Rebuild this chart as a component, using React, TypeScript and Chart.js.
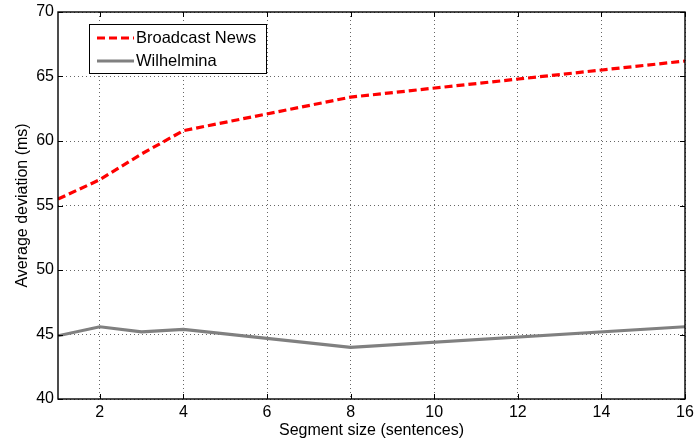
import React, { useEffect, useRef } from 'react';
import { Chart, registerables } from 'chart.js';

Chart.register(...registerables);

const segmentSizes = [1, 2, 3, 4, 8, 16];
const broadcastNews = [55.5, 57.0, 59.0, 60.8, 63.4, 66.2];
const wilhelmina = [44.9, 45.6, 45.2, 45.4, 44.0, 45.6];
const xTicks = [2, 4, 6, 8, 10, 12, 14, 16];
const yTicks = [40, 45, 50, 55, 60, 65, 70];
const seriesLabels = ['Broadcast News', 'Wilhelmina'];
const xTitle = 'Segment size (sentences)';
const yTitle = 'Average deviation (ms)';

const FONT = '"Liberation Sans", Arial, Helvetica, sans-serif';

const framePlugin = {
  id: 'frameAndLegend',
  afterDraw(chart: any) {
    const { ctx, chartArea: a, scales } = chart;
    ctx.save();
    // inward ticks
    ctx.strokeStyle = '#000';
    ctx.lineWidth = 1;
    ctx.setLineDash([]);
    const L = 5;
    ctx.beginPath();
    xTicks.forEach((v) => {
      const px = Math.round(scales.x.getPixelForValue(v)) + 0.5;
      ctx.moveTo(px, a.bottom);
      ctx.lineTo(px, a.bottom - L);
      ctx.moveTo(px, a.top);
      ctx.lineTo(px, a.top + L);
    });
    yTicks.forEach((v) => {
      const py = Math.round(scales.y.getPixelForValue(v)) + 0.5;
      ctx.moveTo(a.left, py);
      ctx.lineTo(a.left + L, py);
      ctx.moveTo(a.right, py);
      ctx.lineTo(a.right - L, py);
    });
    ctx.stroke();
    // frame
    ctx.lineWidth = 1.4;
    ctx.strokeRect(a.left, a.top, a.right - a.left, a.bottom - a.top);

    // legend
    const bx = a.left + 31;
    const by = a.top + 12;
    const bw = 177;
    const bh = 49;
    ctx.fillStyle = '#fff';
    ctx.fillRect(bx, by, bw, bh);
    ctx.lineWidth = 1;
    ctx.strokeStyle = '#000';
    ctx.strokeRect(bx + 0.5, by + 0.5, bw, bh);
    chart.data.datasets.forEach((ds: any, i: number) => {
      const cy = by + 14 + i * 23;
      ctx.save();
      ctx.strokeStyle = ds.borderColor;
      ctx.lineWidth = ds.borderWidth;
      ctx.setLineDash(ds.borderDash || []);
      ctx.beginPath();
      ctx.moveTo(bx + 8, cy);
      ctx.lineTo(bx + 45, cy);
      ctx.stroke();
      ctx.restore();
      ctx.fillStyle = '#000';
      ctx.font = `16.5px ${FONT}`;
      ctx.textBaseline = 'middle';
      ctx.textAlign = 'left';
      ctx.fillText(ds.label, bx + 47, cy);
    });
    ctx.restore();
  },
};

export default function App() {
  const ref = useRef<HTMLCanvasElement | null>(null);
  useEffect(() => {
    document.body.style.margin = '0';
    const canvas = ref.current;
    if (!canvas) return;
    const chart = new Chart(canvas, {
      type: 'line',
      data: {
        datasets: [
          {
            label: seriesLabels[0],
            data: segmentSizes.map((x, i) => ({ x, y: broadcastNews[i] })),
            borderColor: '#ff0000',
            borderWidth: 3.2,
            borderDash: [8, 4],
            pointRadius: 0,
            tension: 0,
            fill: false,
          },
          {
            label: seriesLabels[1],
            data: segmentSizes.map((x, i) => ({ x, y: wilhelmina[i] })),
            borderColor: '#808080',
            borderWidth: 3.2,
            pointRadius: 0,
            tension: 0,
            fill: false,
          },
        ],
      },
      options: {
        responsive: false,
        animation: false,
        devicePixelRatio: 1,
        layout: { padding: { left: 0, right: 10, top: 12, bottom: 0 } },
        plugins: {
          legend: { display: false },
          tooltip: { enabled: false },
        },
        scales: {
          x: {
            type: 'linear',
            min: 1,
            max: 16,
            afterBuildTicks: (scale: any) => {
              scale.ticks = xTicks.map((v) => ({ value: v }));
            },
            afterFit: (scale: any) => {
              scale.height = 42;
              scale.paddingLeft = 0;
              scale.paddingRight = 0;
            },
            grid: { color: 'rgba(0,0,0,0.6)', lineWidth: 1, drawTicks: false },
            border: { display: false, dash: [1, 3] },
            ticks: {
              color: '#000',
              padding: 4,
              maxRotation: 0,
              autoSkip: false,
              font: { family: FONT, size: 16 },
            },
            title: {
              display: true,
              text: xTitle,
              color: '#000',
              font: { family: FONT, size: 16 },
              padding: { top: 0, bottom: 1 },
            },
          },
          y: {
            type: 'linear',
            min: 40,
            max: 70,
            afterBuildTicks: (scale: any) => {
              scale.ticks = yTicks.map((v) => ({ value: v }));
            },
            afterFit: (scale: any) => {
              scale.width = 58;
              scale.paddingTop = 0;
              scale.paddingBottom = 0;
            },
            grid: { color: 'rgba(0,0,0,0.6)', lineWidth: 1, drawTicks: false },
            border: { display: false, dash: [1, 3] },
            ticks: {
              color: '#000',
              padding: 4,
              autoSkip: false,
              font: { family: FONT, size: 16 },
            },
            title: {
              display: true,
              text: yTitle,
              color: '#000',
              font: { family: FONT, size: 16 },
              padding: { top: 12.5, bottom: 0 },
            },
          },
        },
      },
      plugins: [framePlugin],
    } as any);
    return () => chart.destroy();
  }, []);
  return (
    <div style={{ width: 695, height: 441 }}>
      <canvas ref={ref} width={695} height={441} style={{ display: 'block' }} />
    </div>
  );
}
